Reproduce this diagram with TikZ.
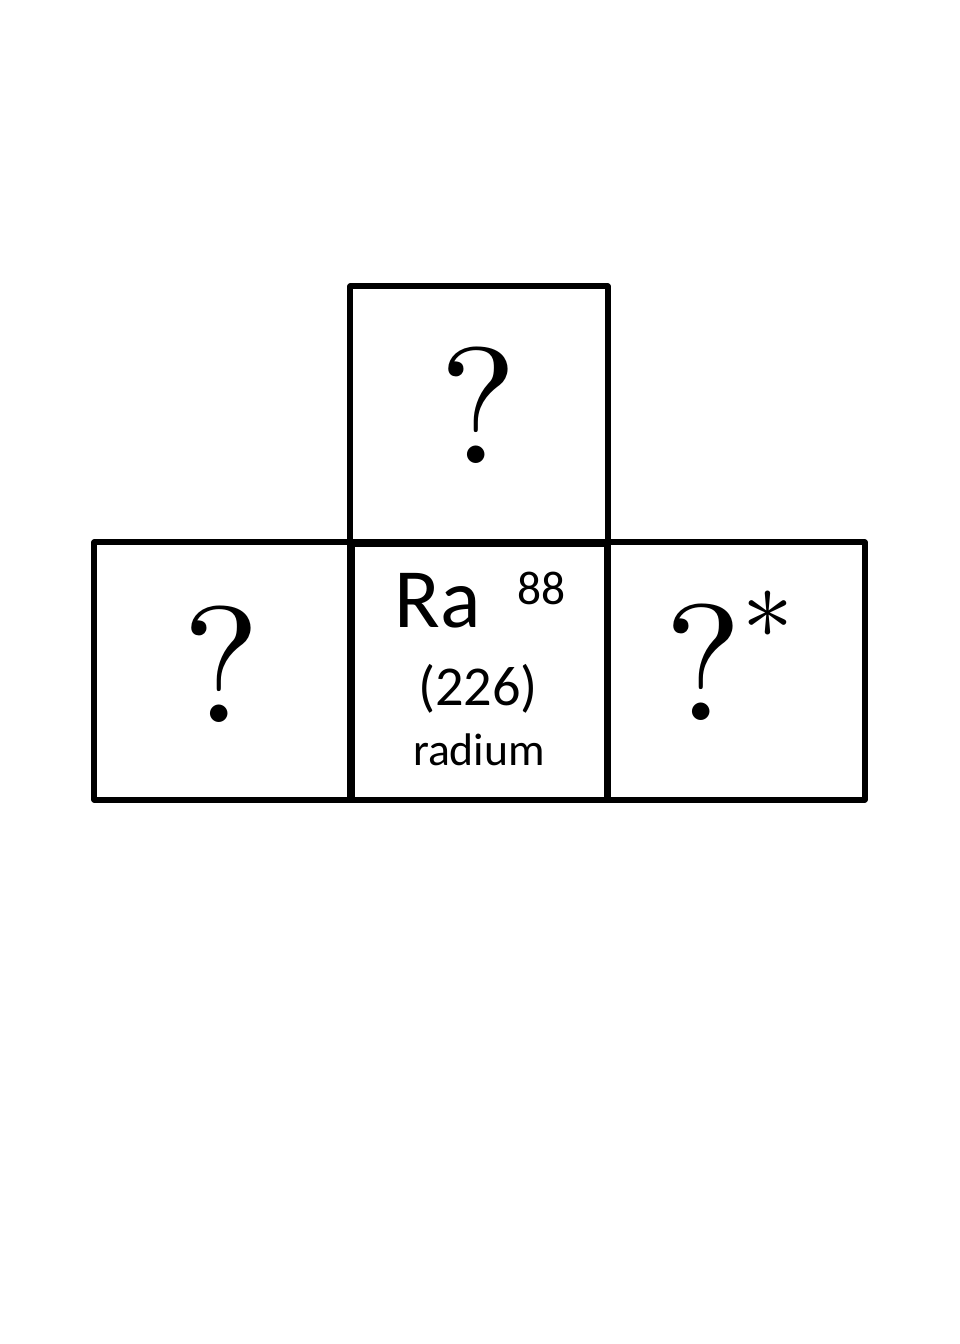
\documentclass[tikz,border=0pt]{standalone}
\usepackage{fontspec}
\usepackage{tikz}
\newfontfamily\elemfont{Carlito}
\newfontfamily\qfont{lmroman10-regular.otf}

\begin{document}
\begin{tikzpicture}[
  x=0.01cm,y=-0.01cm,
  cellbox/.style={draw=black, line width=0.06cm, line join=round,
    minimum width=2.57cm, minimum height=2.57cm, inner sep=0pt},
  unknown/.style={font=\qfont\fontsize{47}{47}\selectfont, anchor=base, inner sep=0pt},
  elem/.style={font=\elemfont, inner sep=0pt}
]
\useasboundingbox (0,0) rectangle (960,1344);
% boxes
\node[cellbox] (up) at (479,415) {};
\node[cellbox] (left) at (223,671) {};
\node[cellbox] (mid) at (479,671) {};
\node[cellbox] (right) at (736,671) {};
% unknown neighbours
\node[unknown] (qup) at (479,463) {?};
\node[unknown] (qleft) at (222,722) {?};
\node[unknown, anchor=base west] (qright) at (664,720)
  {?\raisebox{15pt}{\fontsize{29}{29}\selectfont *}};
% radium cell
\node[elem, anchor=base west, font=\elemfont\fontsize{24}{24}\selectfont] (sym) at (394,627) {Ra};
\node[elem, anchor=base west, font=\elemfont\fontsize{13.5}{13.5}\selectfont] (num) at (517,604) {88};
\node[elem, anchor=base, font=\elemfont\fontsize{16}{16}\selectfont] (mass) at (478,705) {(226)};
\node[elem, anchor=base, font=\elemfont\fontsize{13}{13}\selectfont] (name) at (479,765) {radium};
\end{tikzpicture}
\end{document}
